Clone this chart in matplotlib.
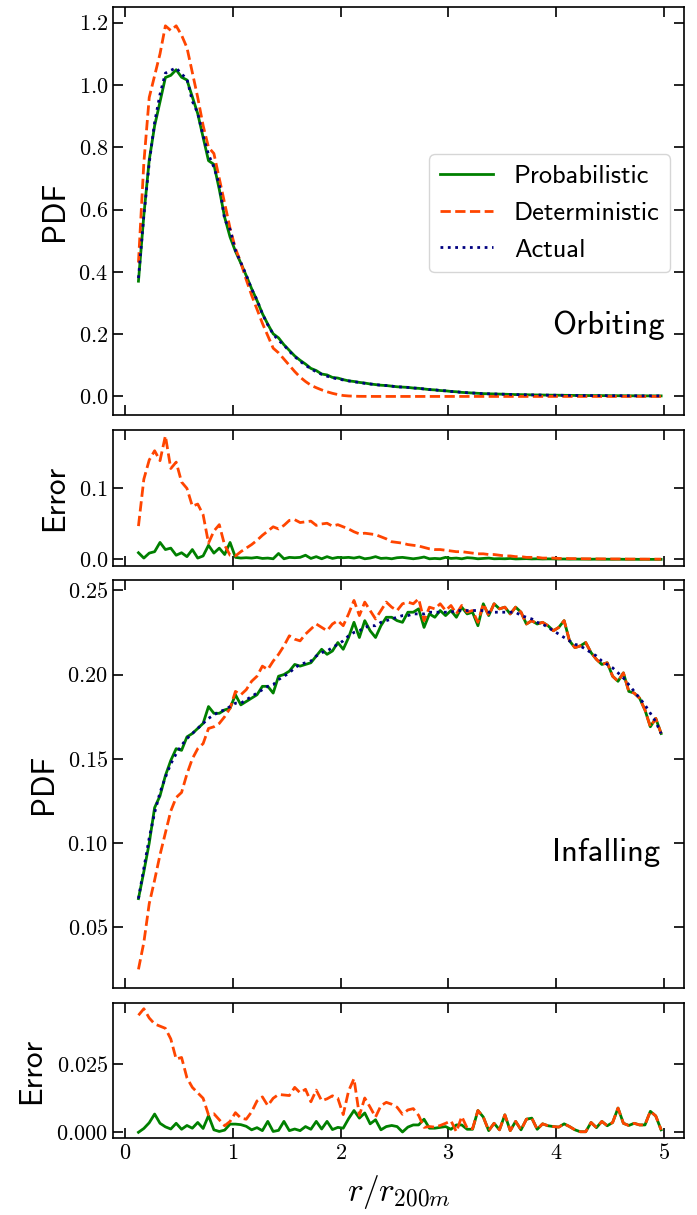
import numpy as np
import matplotlib
matplotlib.use("Agg")
import matplotlib.pyplot as plt
from matplotlib.ticker import MultipleLocator

# radial bins, r / r_200m
r_edges = np.linspace(0.1, 5.0, 99)
r = 0.5 * (r_edges[1:] + r_edges[:-1])

# ---- orbiting PDF ----
orb_prob = [0.370, 0.582, 0.759, 0.869, 0.946, 1.024, 1.031, 1.049, 1.025, 1.016,
            0.962, 0.908, 0.832, 0.757, 0.745, 0.665, 0.575, 0.512, 0.466, 0.428,
            0.388, 0.346, 0.308, 0.266, 0.232, 0.201, 0.188, 0.166, 0.148, 0.130,
            0.116, 0.104, 0.090, 0.083, 0.072, 0.069, 0.061, 0.059, 0.054, 0.050,
            0.048, 0.045, 0.043, 0.040, 0.038, 0.036, 0.035, 0.033, 0.031, 0.030,
            0.029, 0.027, 0.026, 0.024, 0.022, 0.021, 0.019, 0.018, 0.016, 0.015,
            0.013, 0.012, 0.011, 0.010, 0.009, 0.0085, 0.008, 0.0075, 0.007, 0.0065,
            0.006, 0.0057, 0.0054, 0.005, 0.0047, 0.0045, 0.0042, 0.004, 0.0038, 0.0036,
            0.0034, 0.0032, 0.003, 0.0029, 0.0028, 0.0027, 0.0026, 0.0025, 0.0024, 0.0023,
            0.0022, 0.0021, 0.002, 0.002, 0.0019, 0.0018, 0.0018, 0.0017]
orb_det = [0.430, 0.750, 0.960, 1.030, 1.100, 1.190, 1.175, 1.190, 1.160, 1.120,
           1.040, 0.960, 0.870, 0.800, 0.780, 0.700, 0.620, 0.540, 0.475, 0.430,
           0.375, 0.325, 0.280, 0.235, 0.195, 0.155, 0.140, 0.120, 0.100, 0.080,
           0.062, 0.048, 0.036, 0.028, 0.021, 0.015, 0.010, 0.006, 0.003, 0.0015,
           0.0008, 0.0003, 0.0002, 0.0001, 0.0, 0.0, 0.0, 0.0, 0.0, 0.0,
           0.0, 0.0, 0.0, 0.0, 0.0, 0.0, 0.0, 0.0, 0.0, 0.0,
           0.0, 0.0, 0.0, 0.0, 0.0, 0.0, 0.0, 0.0, 0.0, 0.0,
           0.0, 0.0, 0.0, 0.0, 0.0, 0.0, 0.0, 0.0, 0.0, 0.0,
           0.0, 0.0, 0.0, 0.0, 0.0, 0.0, 0.0, 0.0, 0.0, 0.0,
           0.0, 0.0, 0.0, 0.0, 0.0, 0.0, 0.0, 0.0]
orb_act = [0.380, 0.580, 0.750, 0.880, 0.970, 1.038, 1.047, 1.055, 1.035, 1.020,
           0.948, 0.910, 0.837, 0.777, 0.736, 0.681, 0.568, 0.536, 0.469, 0.430,
           0.390, 0.345, 0.310, 0.265, 0.230, 0.200, 0.180, 0.165, 0.145, 0.128,
           0.113, 0.100, 0.089, 0.079, 0.071, 0.065, 0.060, 0.056, 0.053, 0.050,
           0.047, 0.045, 0.042, 0.040, 0.038, 0.036, 0.035, 0.033, 0.031, 0.030,
           0.029, 0.027, 0.026, 0.024, 0.022, 0.021, 0.019, 0.018, 0.016, 0.015,
           0.013, 0.012, 0.011, 0.010, 0.009, 0.0085, 0.008, 0.0075, 0.007, 0.0065,
           0.006, 0.0057, 0.0054, 0.005, 0.0047, 0.0045, 0.0042, 0.004, 0.0038, 0.0036,
           0.0034, 0.0032, 0.003, 0.0029, 0.0028, 0.0027, 0.0026, 0.0025, 0.0024, 0.0023,
           0.0022, 0.0021, 0.002, 0.002, 0.0019, 0.0018, 0.0018, 0.0017]

# ---- orbiting error ----
orb_err_prob = [0.0095, 0.002, 0.009, 0.011, 0.024, 0.014, 0.016, 0.006, 0.0095, 0.004,
                0.014, 0.002, 0.005, 0.020, 0.009, 0.016, 0.007, 0.024, 0.003, 0.002,
                0.0025, 0.002, 0.003, 0.0015, 0.002, 0.001, 0.0085, 0.001, 0.003, 0.0025,
                0.003, 0.006, 0.0015, 0.004, 0.001, 0.004, 0.0015, 0.003, 0.0025, 0.003,
                0.002, 0.0035, 0.001, 0.002, 0.004, 0.0015, 0.002, 0.001, 0.0025, 0.003,
                0.002, 0.001, 0.002, 0.0035, 0.001, 0.0015, 0.001, 0.003, 0.0015, 0.002,
                0.001, 0.0025, 0.002, 0.001, 0.0015, 0.002, 0.001, 0.0012, 0.001, 0.0015,
                0.0008, 0.001, 0.0012, 0.0008, 0.001, 0.0007, 0.0009, 0.0008, 0.0006, 0.0007,
                0.0005, 0.0006, 0.0005, 0.0005, 0.0004, 0.0005, 0.0004, 0.0004, 0.0003, 0.0004,
                0.0003, 0.0003, 0.0003, 0.0002, 0.0003, 0.0002, 0.0002, 0.0002]
orb_err_det = [0.047, 0.113, 0.140, 0.153, 0.139, 0.174, 0.128, 0.137, 0.109, 0.100,
               0.075, 0.078, 0.063, 0.023, 0.040, 0.049, 0.020, 0.006, 0.005, 0.011,
               0.016, 0.021, 0.027, 0.034, 0.040, 0.046, 0.043, 0.048, 0.055, 0.056,
               0.052, 0.053, 0.054, 0.048, 0.050, 0.051, 0.047, 0.049, 0.046, 0.043,
               0.039, 0.036, 0.037, 0.036, 0.035, 0.032, 0.029, 0.025, 0.024, 0.023,
               0.021, 0.020, 0.019, 0.017, 0.015, 0.014, 0.014, 0.013, 0.012, 0.011,
               0.011, 0.010, 0.009, 0.008, 0.008, 0.007, 0.007, 0.006, 0.005, 0.005,
               0.004, 0.004, 0.003, 0.003, 0.003, 0.002, 0.002, 0.002, 0.0015, 0.0015,
               0.0013, 0.0012, 0.0011, 0.001, 0.001, 0.0009, 0.0009, 0.0008, 0.0008, 0.0007,
               0.0007, 0.0006, 0.0006, 0.0006, 0.0005, 0.0005, 0.0005, 0.0005]

# ---- infalling PDF ----
inf_prob = [0.067, 0.083, 0.100, 0.121, 0.128, 0.140, 0.149, 0.156, 0.155, 0.163,
            0.165, 0.168, 0.171, 0.181, 0.177, 0.177, 0.179, 0.180, 0.188, 0.182,
            0.184, 0.186, 0.188, 0.193, 0.193, 0.189, 0.199, 0.200, 0.202, 0.206,
            0.205, 0.206, 0.207, 0.211, 0.215, 0.212, 0.214, 0.219, 0.215, 0.222,
            0.231, 0.222, 0.232, 0.226, 0.222, 0.229, 0.234, 0.234, 0.232, 0.231,
            0.237, 0.237, 0.239, 0.228, 0.236, 0.234, 0.238, 0.235, 0.238, 0.234,
            0.240, 0.236, 0.237, 0.229, 0.242, 0.235, 0.242, 0.239, 0.240, 0.236,
            0.240, 0.237, 0.230, 0.232, 0.230, 0.231, 0.229, 0.226, 0.228, 0.232,
            0.220, 0.216, 0.217, 0.219, 0.213, 0.209, 0.206, 0.207, 0.199, 0.196,
            0.201, 0.190, 0.189, 0.186, 0.179, 0.169, 0.174, 0.165]
inf_det = [0.025, 0.041, 0.064, 0.078, 0.093, 0.106, 0.119, 0.127, 0.130, 0.141,
           0.150, 0.156, 0.159, 0.168, 0.169, 0.171, 0.175, 0.180, 0.190, 0.188,
           0.191, 0.196, 0.199, 0.205, 0.203, 0.208, 0.212, 0.217, 0.223, 0.221,
           0.220, 0.224, 0.227, 0.230, 0.228, 0.226, 0.230, 0.232, 0.229, 0.236,
           0.244, 0.235, 0.243, 0.238, 0.233, 0.238, 0.243, 0.240, 0.238, 0.242,
           0.243, 0.242, 0.245, 0.232, 0.240, 0.239, 0.242, 0.238, 0.241, 0.236,
           0.241, 0.237, 0.238, 0.231, 0.242, 0.235, 0.242, 0.239, 0.240, 0.236,
           0.240, 0.237, 0.230, 0.232, 0.230, 0.231, 0.229, 0.226, 0.228, 0.232,
           0.220, 0.216, 0.217, 0.219, 0.213, 0.209, 0.206, 0.207, 0.199, 0.196,
           0.201, 0.190, 0.189, 0.186, 0.179, 0.169, 0.174, 0.165]
inf_act = [0.067, 0.085, 0.103, 0.118, 0.130, 0.139, 0.147, 0.153, 0.158, 0.162,
           0.165, 0.168, 0.171, 0.174, 0.176, 0.178, 0.179, 0.181, 0.183, 0.183,
           0.185, 0.187, 0.189, 0.191, 0.193, 0.194, 0.197, 0.199, 0.201, 0.204,
           0.206, 0.207, 0.208, 0.211, 0.213, 0.214, 0.216, 0.218, 0.220, 0.223,
           0.225, 0.226, 0.228, 0.229, 0.229, 0.231, 0.232, 0.233, 0.234, 0.235,
           0.235, 0.236, 0.236, 0.236, 0.237, 0.237, 0.237, 0.237, 0.237, 0.238,
           0.238, 0.238, 0.238, 0.238, 0.238, 0.237, 0.237, 0.237, 0.237, 0.237,
           0.237, 0.235, 0.234, 0.233, 0.231, 0.230, 0.228, 0.226, 0.224, 0.222,
           0.220, 0.218, 0.217, 0.215, 0.213, 0.211, 0.208, 0.206, 0.204, 0.201,
           0.198, 0.194, 0.190, 0.186, 0.182, 0.177, 0.172, 0.165]

# ---- infalling error ----
inf_err_prob = [0.0, 0.0014, 0.0035, 0.0067, 0.0033, 0.002, 0.0012, 0.0033, 0.0011, 0.0025,
                0.0015, 0.0036, 0.0014, 0.0061, 0.0009, 0.0003, 0.0008, 0.0030, 0.0030, 0.0028,
                0.0022, 0.0009, 0.0017, 0.0006, 0.0040, 0.0003, 0.0007, 0.0040, 0.0006, 0.0012,
                0.0006, 0.0021, 0.0011, 0.0040, 0.0012, 0.0040, 0.0010, 0.0018, 0.0015, 0.0050,
                0.0080, 0.0052, 0.0071, 0.0031, 0.0046, 0.0009, 0.0021, 0.0025, 0.0021, 0.0001,
                0.0019, 0.0027, 0.0027, 0.0048, 0.0015, 0.0015, 0.0018, 0.0021, 0.0011, 0.0027,
                0.0027, 0.0011, 0.0011, 0.0080, 0.0056, 0.0006, 0.0033, 0.0009, 0.0064, 0.0006,
                0.0040, 0.0009, 0.0048, 0.0052, 0.0011, 0.0031, 0.0024, 0.0021, 0.0019, 0.0031,
                0.0021, 0.0009, 0.0002, 0.0002, 0.0036, 0.0017, 0.0040, 0.0024, 0.0036, 0.0089,
                0.0033, 0.0025, 0.0033, 0.0027, 0.0027, 0.0077, 0.0060, 0.0009]
inf_err_det = [0.0430, 0.0454, 0.0420, 0.0398, 0.0390, 0.0382, 0.0343, 0.0269, 0.0275, 0.0200,
               0.0165, 0.0145, 0.0125, 0.0064, 0.0068, 0.0046, 0.0024, 0.0040, 0.0072, 0.0052,
               0.0048, 0.0075, 0.0115, 0.0130, 0.0098, 0.0125, 0.0139, 0.0137, 0.0135, 0.0165,
               0.0145, 0.0158, 0.0112, 0.0155, 0.0116, 0.0123, 0.0134, 0.0125, 0.0065, 0.0152,
               0.0197, 0.0062, 0.0126, 0.0092, 0.0056, 0.0098, 0.0110, 0.0103, 0.0092, 0.0066,
               0.0082, 0.0087, 0.0062, 0.0018, 0.0021, 0.0019, 0.0025, 0.0033, 0.0042, 0.0002,
               0.0058, 0.0015, 0.0013, 0.0080, 0.0056, 0.0006, 0.0033, 0.0009, 0.0064, 0.0006,
               0.0040, 0.0009, 0.0048, 0.0052, 0.0011, 0.0031, 0.0024, 0.0021, 0.0019, 0.0031,
               0.0021, 0.0009, 0.0002, 0.0002, 0.0036, 0.0017, 0.0040, 0.0024, 0.0036, 0.0089,
               0.0033, 0.0025, 0.0033, 0.0027, 0.0027, 0.0077, 0.0060, 0.0009]

c_prob = "green"
c_det = "orangered"
c_act = "navy"

plt.rcParams["font.family"] = "cmr10"
plt.rcParams["mathtext.fontset"] = "cm"
plt.rcParams["axes.unicode_minus"] = False
plt.rcParams["axes.formatter.use_mathtext"] = True

fig, axs = plt.subplots(4, 1, figsize=(6.97, 12.15), dpi=100, sharex=True,
                        gridspec_kw={"height_ratios": [3, 1, 3, 1]})
fig.subplots_adjust(left=0.162, right=0.981, top=0.994, bottom=0.063, hspace=0.054)

sans = "cmss10"
lw = 2
ylab = dict(fontfamily=sans, fontsize=22.5, labelpad=7)

ax = axs[0]
ax.plot(r, orb_prob, "-", color=c_prob, lw=lw, label="Probabilistic")
ax.plot(r, orb_det, "--", color=c_det, lw=lw, label="Deterministic")
ax.plot(r, orb_act, ":", color=c_act, lw=lw, label="Actual")
ax.set_ylabel("PDF", **ylab)
ax.yaxis.set_major_locator(MultipleLocator(0.2))
ax.text(0.967, 0.22, "Orbiting", transform=ax.transAxes, ha="right", va="center",
        fontfamily=sans, fontsize=23.5)
leg = ax.legend(loc="lower right", bbox_to_anchor=(0.976, 0.35), borderaxespad=0,
                prop={"family": sans, "size": 19}, handlelength=2.0, fancybox=True)
leg.get_frame().set_edgecolor("0.8")

ax = axs[1]
ax.plot(r, orb_err_prob, "-", color=c_prob, lw=lw)
ax.plot(r, orb_err_det, "--", color=c_det, lw=lw)
ax.set_ylabel("Error", **ylab)
ax.yaxis.set_major_locator(MultipleLocator(0.1))

ax = axs[2]
ax.plot(r, inf_prob, "-", color=c_prob, lw=lw)
ax.plot(r, inf_det, "--", color=c_det, lw=lw)
ax.plot(r, inf_act, ":", color=c_act, lw=lw)
ax.set_ylabel("PDF", **ylab)
ax.yaxis.set_major_locator(MultipleLocator(0.05))
ax.text(0.958, 0.333, "Infalling", transform=ax.transAxes, ha="right", va="center",
        fontfamily=sans, fontsize=23.5)

ax = axs[3]
ax.plot(r, inf_err_prob, "-", color=c_prob, lw=lw)
ax.plot(r, inf_err_det, "--", color=c_det, lw=lw)
ax.set_ylabel("Error", **ylab)
ax.yaxis.set_major_locator(MultipleLocator(0.025))
ax.set_xlabel(r"$r/r_{200m}$", fontsize=24, labelpad=7)

for ax in axs:
    ax.set_xlim(-0.112, 5.185)
    ax.xaxis.set_major_locator(MultipleLocator(1))
    ax.tick_params(direction="in", top=True, right=True, length=7, width=1.2,
                   labelsize=16)
    for s in ax.spines.values():
        s.set_linewidth(1.2)

fig.savefig("out.png", dpi=100)
